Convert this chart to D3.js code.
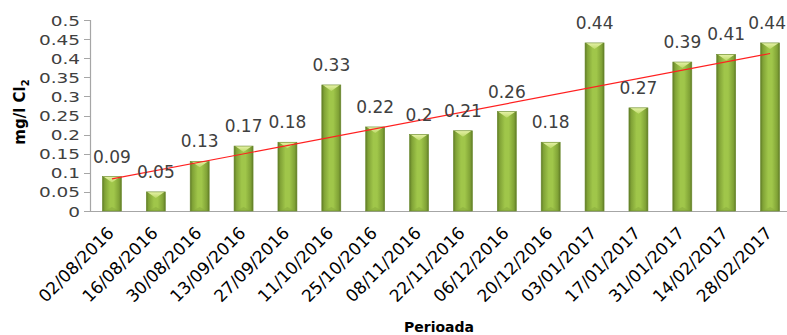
<!DOCTYPE html>
<html><head><meta charset="utf-8">
<script src="https://cdn.jsdelivr.net/npm/d3@7"></script>
<style>body{margin:0;background:#fff;overflow:hidden}svg{display:block}</style>
</head><body>
<svg id="c" width="787" height="335"></svg>
<script>
const categories = ["02/08/2016","16/08/2016","30/08/2016","13/09/2016","27/09/2016","11/10/2016","25/10/2016","08/11/2016","22/11/2016","06/12/2016","20/12/2016","03/01/2017","17/01/2017","31/01/2017","14/02/2017","28/02/2017"];
const values = [0.09,0.05,0.13,0.17,0.18,0.33,0.22,0.2,0.21,0.26,0.18,0.44,0.27,0.39,0.41,0.44];
const yTicks = [0,0.05,0.1,0.15,0.2,0.25,0.3,0.35,0.4,0.45,0.5];
const yTitle = "mg/l Cl";
const yTitleSub = "2";
const xTitle = "Perioada";

const W = 787;
const svg = d3.select("#c");
const m = {left:90, right:792, top:20, bottom:211};
const x = d3.scaleBand().domain(categories).range([m.left, m.right]).padding(0);
const y = d3.scaleLinear().domain([0,0.5]).range([m.bottom, m.top]);
const bw = 19;

const defs = svg.append("defs");
const g1 = defs.append("linearGradient").attr("id","barG").attr("x1","0").attr("x2","1").attr("y1","0").attr("y2","0");
[["0%","#5f7a26"],["12%","#80a236"],["40%","#a0c64a"],["60%","#a0c64a"],["88%","#80a236"],["100%","#5f7a26"]].forEach(s=>g1.append("stop").attr("offset",s[0]).attr("stop-color",s[1]));
const g2 = defs.append("linearGradient").attr("id","capG").attr("x1","0").attr("x2","0").attr("y1","0").attr("y2","1");
[["0%","#e6f2a8"],["100%","#bcd968"]].forEach(s=>g2.append("stop").attr("offset",s[0]).attr("stop-color",s[1]));

// axes
svg.append("line").attr("x1",m.left).attr("x2",W).attr("y1",y(0)+0.5).attr("y2",y(0)+0.5).attr("stroke","#a6a6a6").attr("stroke-width",1.2);
svg.append("line").attr("x1",m.left+0.5).attr("x2",m.left+0.5).attr("y1",y(0.5)).attr("y2",y(0)).attr("stroke","#a6a6a6").attr("stroke-width",1.2);
const yax = svg.append("g");
yTicks.forEach(t=>{
  yax.append("line").attr("x1",m.left-6).attr("x2",m.left).attr("y1",Math.round(y(t))+0.5).attr("y2",Math.round(y(t))+0.5).attr("stroke","#a6a6a6");
  yax.append("text").attr("transform",`translate(${m.left-10},${y(t)+5.5}) scale(1.32,1)`).attr("text-anchor","end")
    .attr("font-family","DejaVu Sans").attr("font-size",14).attr("fill","#404040").text(String(t));
});

// bars
const bars = svg.append("g");
categories.forEach((c,i)=>{
  const cx = x(c)+x.bandwidth()/2, x0 = cx-bw/2, top = y(values[i]), h = y(0)-top;
  bars.append("rect").attr("x",x0).attr("y",top).attr("width",bw).attr("height",h).attr("fill","url(#barG)");
  const d = Math.min(6, h/2);
  bars.append("path").attr("d",`M${x0+1},${top}L${x0+bw-1},${top}L${cx},${top+d}Z`).attr("fill","url(#capG)");
  bars.append("path").attr("d",`M${x0+2},${y(0)}L${x0+bw-2},${y(0)}L${cx},${y(0)-Math.min(4,h/3)}Z`).attr("fill","#8aad3d").attr("opacity",0.6);
  bars.append("rect").attr("x",x0).attr("y",top).attr("width",bw).attr("height",h).attr("fill","none").attr("stroke","#6a8a2c").attr("stroke-width",0.6);
});

// trend line (linear regression)
const n = values.length, xs = d3.range(n);
const mx = d3.mean(xs), my = d3.mean(values);
const slope = d3.sum(xs,(xi,i)=>(xi-mx)*(values[i]-my))/d3.sum(xs,xi=>(xi-mx)*(xi-mx));
const icpt = my - slope*mx;
const cxOf = i => x(categories[i])+x.bandwidth()/2;
svg.append("line").attr("x1",cxOf(0)).attr("y1",y(icpt)).attr("x2",cxOf(n-1)).attr("y2",y(icpt+slope*(n-1)))
  .attr("stroke","#ff2020").attr("stroke-width",1.2);

// data labels (kept inside the picture)
categories.forEach((c,i)=>{
  const t = svg.append("text").attr("x",cxOf(i)).attr("y",y(values[i])-14).attr("text-anchor","middle")
    .attr("font-family","DejaVu Sans").attr("font-size",17).attr("fill","#404040").text(String(values[i]));
  const bb = t.node().getBBox();
  if (bb.x + bb.width > W - 1) t.attr("x", W - 1 - bb.width/2);
});

// x labels
categories.forEach((c,i)=>{
  svg.append("text").attr("transform",`translate(${cxOf(i)+3},${234}) rotate(-45)`).attr("text-anchor","end")
    .attr("font-family","DejaVu Sans").attr("font-size",17).attr("fill","#000").text(c);
});

// titles
const yt = svg.append("text").attr("transform","translate(25,112) rotate(-90)").attr("text-anchor","middle")
  .attr("font-family","DejaVu Sans").attr("font-weight","bold").attr("font-size",15).attr("fill","#000");
yt.append("tspan").text(yTitle);
yt.append("tspan").attr("font-size",10).attr("dy",4).text(yTitleSub);
svg.append("text").attr("x",439).attr("y",332).attr("text-anchor","middle")
  .attr("font-family","DejaVu Sans").attr("font-weight","bold").attr("font-size",14).attr("fill","#000").text(xTitle);
</script>
</body></html>
